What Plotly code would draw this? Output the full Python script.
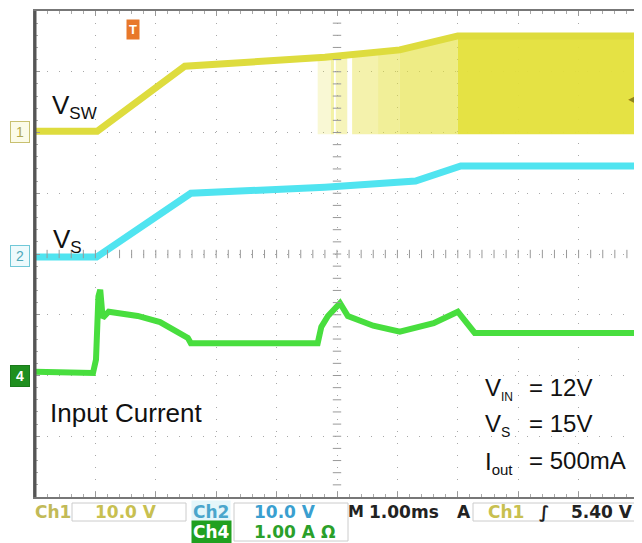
import numpy as np
import plotly.graph_objects as go

# ---- data (time in divisions of 1.00 ms, level in vertical divisions from bottom) ----
vsw_t = [0.0, 1.03, 2.48, 3.73, 4.80, 6.04, 7.00, 10.05]
vsw_v = [6.02, 6.02, 7.09, 7.16, 7.24, 7.36, 7.59, 7.59]

vs_t = [0.0, 1.02, 2.58, 4.80, 6.30, 7.05, 10.05]
vs_v = [3.95, 3.95, 5.00, 5.10, 5.20, 5.45, 5.45]

ic_t = [0.0, 0.96, 1.01, 1.05, 1.08, 1.12, 1.22, 1.70, 2.07, 2.53, 2.58, 3.50, 4.68,
        4.74, 4.85, 5.05, 5.18, 5.60, 6.04, 6.60, 7.00, 7.28, 8.50, 10.05]
ic_v = [2.06, 2.04, 2.26, 3.30, 3.41, 2.95, 3.05, 2.98, 2.88, 2.62, 2.53, 2.53, 2.53,
        2.80, 2.98, 3.19, 2.98, 2.82, 2.72, 2.86, 3.05, 2.70, 2.70, 2.70]

# switching bursts: (start, end, intensity)
burst_start = [4.68, 4.90, 4.98, 5.25, 5.68, 6.04, 7.00]
burst_end   = [4.90, 4.95, 5.17, 5.68, 6.04, 7.00, 10.05]
burst_alpha = [0.22, 0.45, 0.35, 0.42, 0.52, 0.62, 0.95]
burst_base = 5.97

YEL = "rgb(222,220,62)"
CYAN = "rgb(80,228,240)"
GRN = "rgb(72,222,62)"

# page geometry (the page body adds an 8px offset)
OFF = 8
PL, PT, PW, PH = 35, 11, 604, 486   # plot area in window pixels

fig = go.Figure()

for s, e, a in zip(burst_start, burst_end, burst_alpha):
    xs = np.linspace(s, e, 8)
    top = np.interp(xs, vsw_t, vsw_v)
    px = np.concatenate([[s], xs, [e]])
    py = np.concatenate([[burst_base], top, [burst_base]])
    fig.add_trace(go.Scatter(x=px, y=py, fill="toself", mode="none",
                             fillcolor=f"rgba(228,224,58,{a})", hoverinfo="skip",
                             showlegend=False))

fig.add_trace(go.Scatter(x=vsw_t, y=vsw_v, mode="lines",
                         line=dict(color=YEL, width=7), showlegend=False))
fig.add_trace(go.Scatter(x=vs_t, y=vs_v, mode="lines",
                         line=dict(color=CYAN, width=7), showlegend=False))
fig.add_trace(go.Scatter(x=ic_t, y=ic_v, mode="lines",
                         line=dict(color=GRN, width=6), showlegend=False))

# centre-line minor ticks
mt = np.arange(0.2, 10, 0.2)
fig.add_trace(go.Scatter(x=mt, y=[4] * len(mt), mode="markers",
                         marker=dict(symbol="line-ns-open", size=6, color="#999",
                                     line=dict(width=1, color="#999")),
                         hoverinfo="skip", showlegend=False))
my = np.arange(0.2, 8, 0.2)
fig.add_trace(go.Scatter(x=[5] * len(my), y=my, mode="markers",
                         marker=dict(symbol="line-ew-open", size=6, color="#999",
                                     line=dict(width=1, color="#999")),
                         hoverinfo="skip", showlegend=False))

FONT = "Liberation Sans, Arial, sans-serif"
SFONT = "DejaVu Sans, sans-serif"
ann = []
def A(x, y, text, size, color="#111", xanchor="left", family=FONT, **kw):
    d = dict(x=x, y=y, xref="x", yref="y", text=text, showarrow=False,
             xanchor=xanchor, yanchor="middle",
             font=dict(family=family, size=size, color=color))
    d.update(kw)
    ann.append(d)

def P(xpix, ypix, text, size=17, color="#111", xanchor="left", family=SFONT, **kw):
    d = dict(x=(xpix - PL) / PW, y=(PT + PH - ypix) / PH, xref="paper", yref="paper",
             text=text, showarrow=False, xanchor=xanchor, yanchor="middle",
             font=dict(family=family, size=size, color=color))
    d.update(kw)
    ann.append(d)

def sub(main, s, px):
    return f"{main}<sub><span style='font-size:{px}px'>{s}</span></sub>"

A(0.24, 6.42, sub("V", "SW", 17), 26)
A(0.26, 4.22, sub("V", "S", 17), 26)
A(0.22, 1.38, "Input Current", 26)
A(7.42, 1.78, sub("V", "IN", 12), 24)
A(8.15, 1.81, "= 12V", 24)
A(7.42, 1.18, sub("V", "S", 14), 24)
A(8.15, 1.21, "= 15V", 24)
A(7.42, 0.56, sub("I", "out", 15), 24)
A(8.15, 0.60, "= 500mA", 24)

# channel markers (left of the graticule)
P(20, 132, "1", 14, color="#b0a850", xanchor="center", family=FONT,
  bordercolor="#c8c070", borderwidth=1, borderpad=2, bgcolor="#fbfbe8", width=14)
P(20, 256, "2", 14, color="#50a8b8", xanchor="center", family=FONT,
  bordercolor="#70c8d8", borderwidth=1, borderpad=2, bgcolor="#eefafc", width=14)
P(20, 376, "<b>4</b>", 14, color="white", xanchor="center", family=FONT,
  bordercolor="#1a7a1a", borderwidth=1, borderpad=2, bgcolor="#1f8f1f", width=14)
# trigger marker
A(1.62, 7.70, "<b>T</b>", 13, color="white", xanchor="center",
  bgcolor="#e8782a", borderpad=2)
A(9.88, 6.55, "◄", 11, color="#8a8620", xanchor="center")

# status bar
P(33, 512, "<b>Ch1</b>", color="#c2ba58")
P(93, 512, "<b>10.0 V</b>", color="#c8c050")
P(191, 512, "<b>Ch2</b>", color="#4aa6cc", bgcolor="#e4f6fa")
P(252, 512, "<b>10.0 V</b>", color="#3a9fd0")
P(346, 512, "<b>M</b>", size=16, color="#222")
P(367, 512, "<b>1.00ms</b>", color="#222")
P(455, 512, "<b>A</b>", color="#222")
P(486, 512, "<b>Ch1</b>", color="#c8c050")
P(537, 512, "<b>∫</b>", color="#222")
P(569, 512, "<b>5.40 V</b>", color="#222")
P(191, 532, "<b>Ch4</b>", color="white", bgcolor="#20a020")
P(252, 532, "<b>1.00 A Ω</b>", color="#2aa02a")

def R(x0, x1, y0, y1):
    return dict(type="rect", xref="paper", yref="paper",
                x0=(x0 - PL) / PW, x1=(x1 - PL) / PW,
                y0=(PT + PH - y1) / PH, y1=(PT + PH - y0) / PH,
                line=dict(color="#ccc", width=1))

shapes = [
    R(72, 186, 503, 521),
    R(234, 348, 503, 541),
    R(473, 645, 503, 521),
    dict(type="line", xref="paper", yref="paper", x0=0, x1=0, y0=0, y1=1,
         line=dict(color="#555", width=3)),
]

grid = dict(showgrid=True, gridcolor="#a8a8a8", gridwidth=1, griddash="1px,11px",
            zeroline=False, showticklabels=False, showline=True, linecolor="#777",
            linewidth=2, mirror="allticks", ticks="inside", ticklen=5, tickcolor="#999",
            minor=dict(ticks="inside", ticklen=3, dtick=0.2, tickcolor="#aaa",
                       showgrid=False))

W, H = 642 - OFF, 543 - OFF
fig.update_layout(
    width=W, height=H,
    margin=dict(l=PL - OFF, r=W - (PL - OFF) - PW, t=PT - OFF, b=H - (PT - OFF) - PH,
                autoexpand=False),
    paper_bgcolor="white", plot_bgcolor="white",
    xaxis=dict(range=[0, 10], dtick=1, **grid),
    yaxis=dict(range=[0, 8], dtick=1, **grid),
    annotations=ann, shapes=shapes, showlegend=False,
)

fig.write_html("out.html")
